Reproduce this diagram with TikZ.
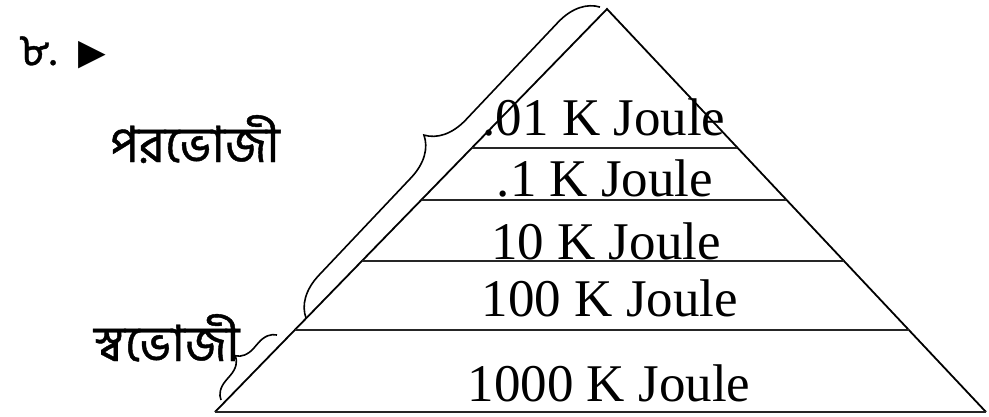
\documentclass[tikz,border=0pt]{standalone}
\usepackage{fontspec}
\setmainfont{Liberation Serif}
\newfontfamily\bn[Script=Bengali,FakeBold=0.8]{Hind Siliguri}
\newfontfamily\sym{DejaVu Sans}
\usetikzlibrary{calc,decorations.pathreplacing}
\begin{document}
\begin{tikzpicture}[x=1pt,y=-1pt,
  edge/.style={line width=1.8pt,black},
  tier/.style={line width=2.2pt,black!85},
  joule/.style={anchor=base,inner sep=0pt,font=\fontsize{53}{60}\selectfont},
  bnlabel/.style={anchor=base west,inner sep=0pt,font=\bn\fontsize{50}{56}\selectfont},
  bracestyle/.style={line width=1.6pt,decorate}]
\useasboundingbox (0,0) rectangle (989,416);
% pyramid
\coordinate (apex) at (607,9);
\coordinate (bl) at (215,412);
\coordinate (br) at (986,412);
\draw[edge] (bl) -- (apex) -- (br);
\draw[tier] (bl) -- (br);
\foreach \t/\n in {0.344/a,0.473/b,0.626/c,0.797/d}{
  \coordinate (l\n) at ($(apex)!\t!(bl)$);
  \coordinate (r\n) at ($(apex)!\t!(br)$);
  \draw[tier] (l\n) -- (r\n);
}
% texts
\node[joule] (t1) at (604,135) {.01 K Joule};
\node[joule] (t2) at (605,196) {.1 K Joule};
\node[joule] (t3) at (606,259) {10 K Joule};
\node[joule] (t4) at (610,316) {100 K Joule};
\node[joule] (t5) at (609,401) {1000 K Joule};
% labels
\node[anchor=base west,inner sep=0pt,font=\bn\fontsize{44}{50}\selectfont] (num) at (19,65) {৮.};
\node[anchor=base west,inner sep=0pt,font=\sym\fontsize{36}{42}\selectfont] (tri) at (78,64) {▶};
\node[bnlabel] (para) at (110,162) {পরভোজী};
\node[bnlabel] (swa) at (94,361) {স্বভোজী};
% braces
\coordinate (b1s) at (306,318);
\coordinate (b1e) at (600,7);
\draw[bracestyle,decoration={brace,amplitude=40pt}] (b1s) -- (b1e);
\coordinate (b2s) at (221,400);
\coordinate (b2e) at (277,335);
\draw[bracestyle,decoration={brace,amplitude=18pt}] (b2s) -- (b2e);
\end{tikzpicture}
\end{document}
